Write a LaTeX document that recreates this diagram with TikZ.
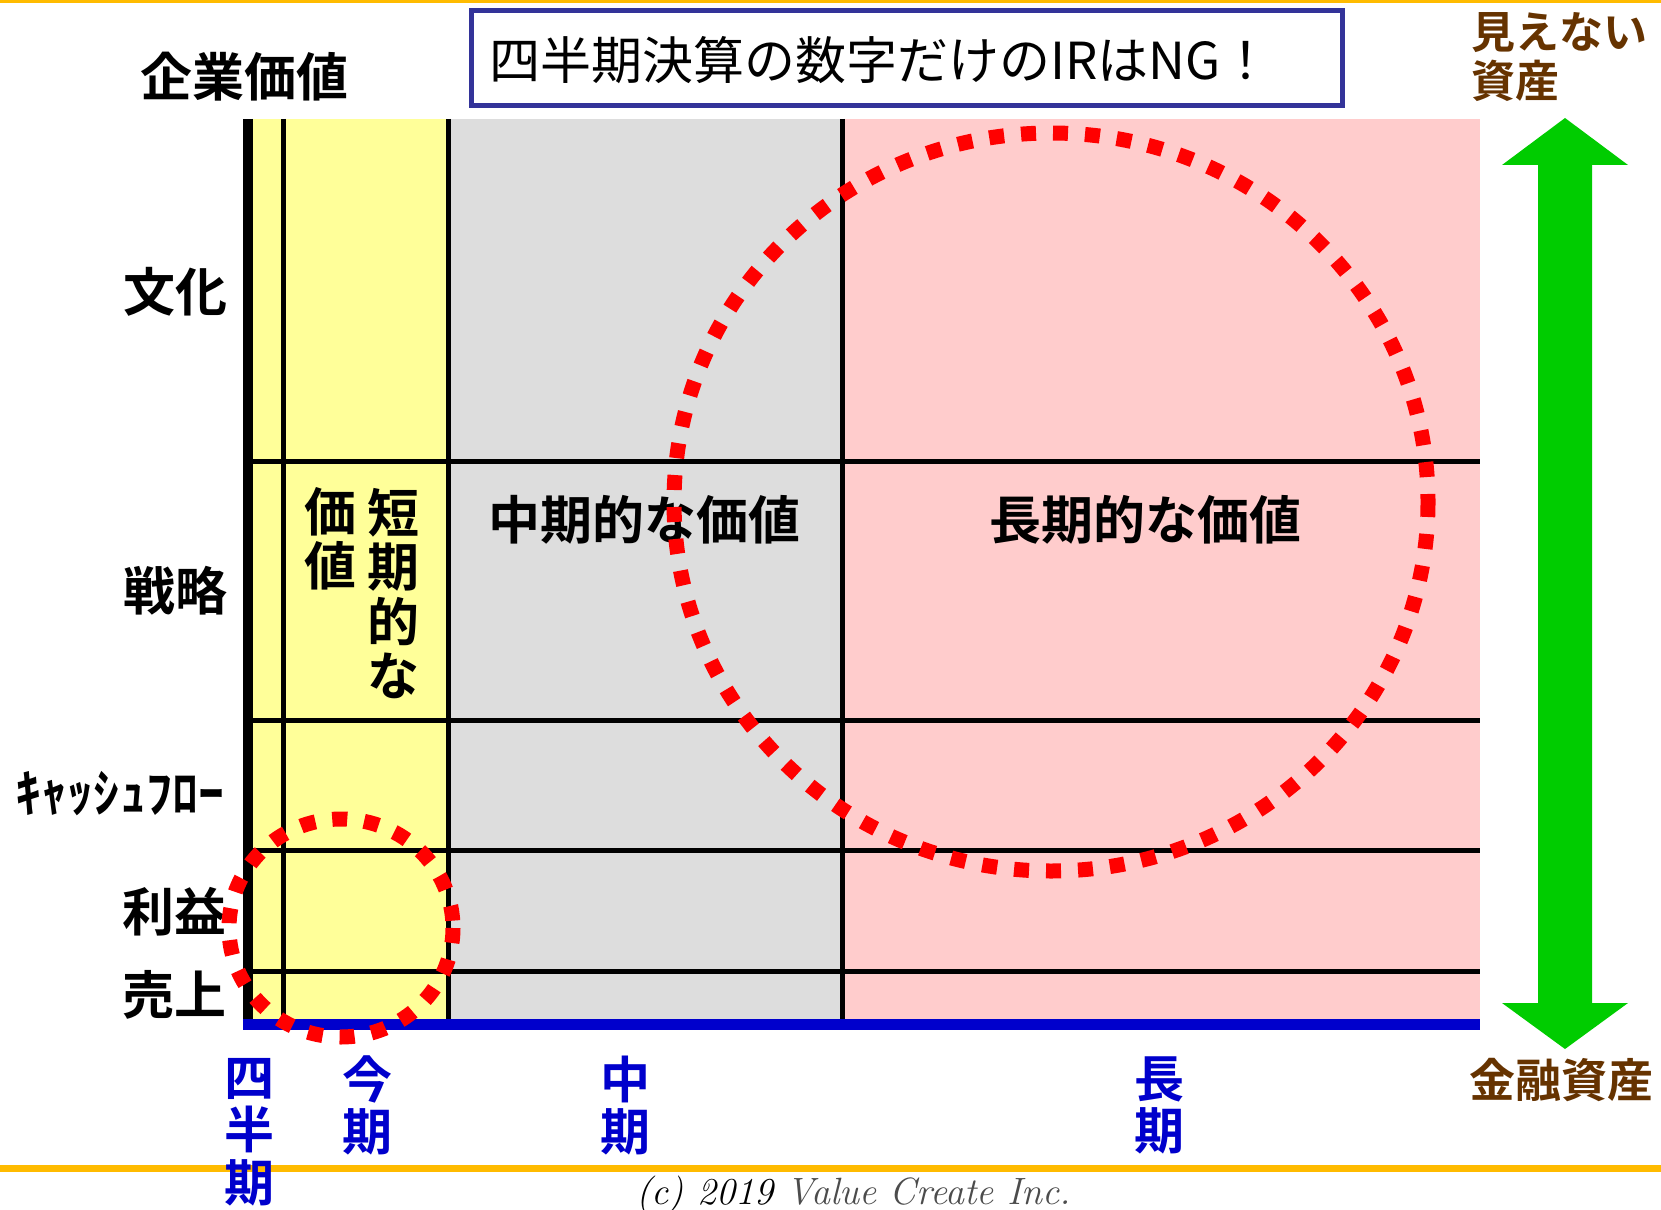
\documentclass[tikz,border=0pt]{standalone}
\usepackage{fontspec}
\newfontfamily\jpr{Noto Sans CJK JP}
\newfontfamily\jpb{Noto Sans CJK JP Bold}
\definecolor{orangeline}{HTML}{FFBB00}
\definecolor{titleblue}{HTML}{333399}
\definecolor{yellowbg}{HTML}{FFFF99}
\definecolor{graybg}{HTML}{DDDDDD}
\definecolor{pinkbg}{HTML}{FFCCCC}
\definecolor{axisblue}{HTML}{0000CC}
\definecolor{arrowgreen}{HTML}{00CC00}
\definecolor{brownlbl}{HTML}{663300}
\begin{document}
\begin{tikzpicture}[x=1pt,y=-1pt,
  gridline/.style={line width=5pt, black},
  ylbl/.style={inner sep=0pt, font={\jpb\fontsize{52}{54}\selectfont}},
  vlbl/.style={inner sep=0pt, align=center, font={\jpb\fontsize{52}{54.3}\selectfont}},
  xlbl/.style={inner sep=0pt, align=center, text=axisblue, font={\jpb\fontsize{50}{52.5}\selectfont}},
  brlbl/.style={inner sep=0pt, text=brownlbl, font={\jpb\fontsize{44}{48}\selectfont}},
  reddots/.style={draw=red, line width=15pt, dash pattern=on 15pt off 17pt},
]
\useasboundingbox (0,0) rectangle (1661,1209);
\fill[white] (0,0) rectangle (1661,1209);
% orange rules
\fill[orangeline] (0,0) rectangle (1661,3.5);
\fill[orangeline] (0,1165) rectangle (1661,1171.5);
% title
\draw[titleblue, line width=5pt] (471.5,10.5) rectangle (1342.5,105.5);
\node[inner sep=0pt, anchor=west, font={\jpr\fontsize{51}{52}\selectfont}] (title) at (489,60) {四半期決算の数字だけのIRはNG！};
% backgrounds
\fill[yellowbg] (243,119) rectangle (448,1024);
\fill[graybg] (448,119) rectangle (842,1024);
\fill[pinkbg] (842,119) rectangle (1480,1024);
% grid
\foreach \yy in {461,720,850,971} \draw[gridline] (243,\yy) -- (1480,\yy);
\foreach \xx in {283.5,448,842} \draw[gridline] (\xx,119) -- (\xx,1024);
\draw[line width=10pt, black] (248,119) -- (248,1027);
\draw[line width=11pt, axisblue] (243,1024.5) -- (1480,1024.5);
% y labels
\node[ylbl] (kigyo) at (244,77) {企業価値};
\node[ylbl] (bunka) at (175,292) {文化};
\node[ylbl] (senryaku) at (175,591) {戦略};
\node[ylbl] (cf) at (120,794) {ｷｬｯｼｭﾌﾛｰ};
\node[ylbl] (rieki) at (174,912) {利益};
\node[ylbl] (uriage) at (174,995) {売上};
% value labels
\node[vlbl] (tanki) at (393,593.5) {短\\期\\的\\な};
\node[vlbl] (kachi) at (330,539) {価\\値};
\node[ylbl] (chuki) at (644.5,520) {中期的な価値};
\node[ylbl] (choki) at (1145,520) {長期的な価値};
% green arrow
\fill[arrowgreen] (1565,118) -- (1628,165) -- (1592,165) -- (1592,1003) -- (1628,1003) -- (1565,1049) -- (1502,1003) -- (1538,1003) -- (1538,165) -- (1502,165) -- cycle;
\node[brlbl, anchor=west] (mieru) at (1471,33) {見えない};
\node[brlbl, anchor=west] (shisan) at (1471,81) {資産};
\node[brlbl, font={\jpb\fontsize{46}{48}\selectfont}] (kinyu) at (1561,1080) {金融資産};
% red dotted circles
\draw[reddots] (1051,502) ellipse [x radius=377, y radius=369];
\draw[reddots] (341,928) ellipse [x radius=112, y radius=109];
% x labels
\node[xlbl] (shihanki) at (249,1132) {四\\半\\期};
\node[xlbl] (konki) at (367,1105.5) {今\\期};
\node[xlbl] (chukix) at (625,1105.5) {中\\期};
\node[xlbl] (chokix) at (1159,1105.5) {長\\期};
% copyright
\node[inner sep=0pt, anchor=base west, font={\itshape\fontsize{38}{40}\selectfont}] (copy) at (636,1204) {(c) 2019 \textcolor{black!70}{Value Create Inc.}};
\end{tikzpicture}
\end{document}
